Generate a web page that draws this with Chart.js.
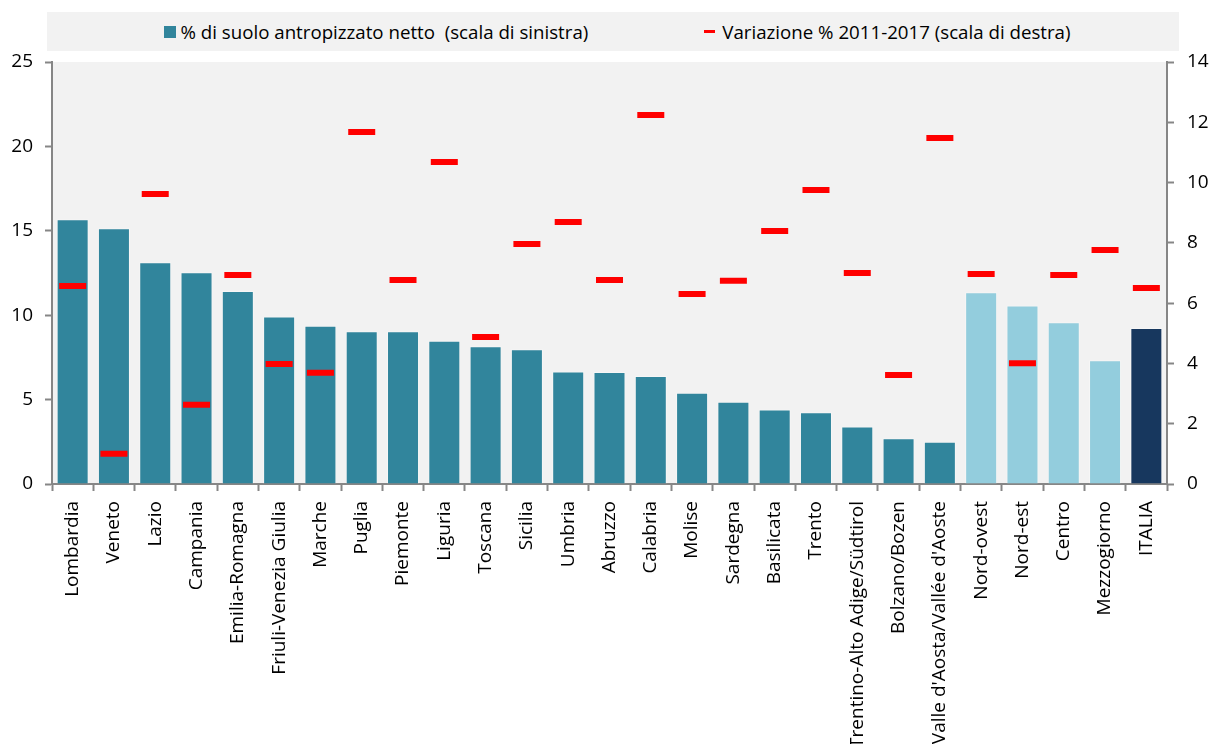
<!DOCTYPE html>
<html lang="it">
<head>
<meta charset="utf-8">
<title>Suolo antropizzato netto per regione</title>
<script src="https://cdn.jsdelivr.net/npm/chart.js@4/dist/chart.umd.min.js"></script>
<style>
    html, body { margin: 0; padding: 0; background: #ffffff; }
    #wrap { position: relative; width: 1210px; height: 744px; }
    #chart { position: absolute; left: 0; top: 0; }
    #legend {
        position: absolute; left: 47px; top: 12px; width: 1132px; height: 39px;
        background: #f2f2f2; display: flex; align-items: center; justify-content: center;
        gap: 116px; font-family: "Open Sans", sans-serif; font-size: 18.7px; color: #000;
        white-space: pre; padding-left: 8px; box-sizing: border-box;
    }
    .item { display: flex; align-items: center; }
    .swatch { display: inline-block; margin-right: 5px; }
</style>
</head>
<body>
<div id="wrap">
    <canvas id="chart" width="1210" height="744"></canvas>
    <div id="legend"></div>
</div>
<script>
// ── Data ──
const categories = [
    "Lombardia", "Veneto", "Lazio", "Campania", "Emilia-Romagna", "Friuli-Venezia Giulia",
    "Marche", "Puglia", "Piemonte", "Liguria", "Toscana", "Sicilia", "Umbria", "Abruzzo",
    "Calabria", "Molise", "Sardegna", "Basilicata", "Trento", "Trentino-Alto Adige/Südtirol",
    "Bolzano/Bozen", "Valle d'Aosta/Vallée d'Aoste",
    "Nord-ovest", "Nord-est", "Centro", "Mezzogiorno", "ITALIA",
];
const macroAreas = ["Nord-ovest", "Nord-est", "Centro", "Mezzogiorno"];
const nationLabel = "ITALIA";

// % di suolo antropizzato netto (left scale)
const suoloNetto = [
    15.68, 15.15, 13.13, 12.54, 11.43, 9.93, 9.38, 9.05, 9.05, 8.49, 8.16, 7.98, 6.67, 6.64,
    6.40, 5.41, 4.88, 4.42, 4.25, 3.40, 2.71, 2.51,
    11.36, 10.58, 9.58, 7.33, 9.24,
];
// Variazione % 2011-2017 (right scale)
const variazione = [
    6.57, 1.00, 9.62, 2.63, 6.93, 3.98, 3.69, 11.68, 6.77, 10.68, 4.88, 7.96, 8.69, 6.77,
    12.24, 6.30, 6.74, 8.39, 9.75, 7.00, 3.62, 11.48,
    6.97, 4.01, 6.93, 7.76, 6.50,
];

const leftTicks = { min: 0, max: 25, step: 5 };
const rightTicks = { min: 0, max: 14, step: 2 };

const COLORS = {
    region: "#31859c",
    macro:  "#93cddd",
    nation: "#17375e",
    change: "#ff0000",
    axis:   "#868686",
    plotBg: "#f2f2f2",
};

const FONT = "'Open Sans', sans-serif";

// ── Bar colour per category ──
const barColors = categories.map(c => {
    if (c === nationLabel) return COLORS.nation;
    if (macroAreas.includes(c)) return COLORS.macro;
    return COLORS.region;
});

// ── Plot area background ──
const plotBackground = {
    id: "plotBackground",
    beforeDraw(chart) {
        const { ctx, chartArea } = chart;
        ctx.save();
        ctx.fillStyle = COLORS.plotBg;
        ctx.fillRect(chartArea.left, chartArea.top,
            chartArea.right - chartArea.left, chartArea.bottom - chartArea.top);
        ctx.restore();
    },
};

const chart = new Chart(document.getElementById("chart"), {
    data: {
        labels: categories,
        datasets: [
            {
                type: "line",
                label: "Variazione % 2011-2017 (scala di destra)",
                data: variazione,
                yAxisID: "y1",
                showLine: false,
                pointStyle: "line",
                pointRadius: 13.5,
                pointHoverRadius: 13.5,
                pointBorderWidth: 6,
                pointHoverBorderWidth: 6,
                pointBorderColor: COLORS.change,
                pointBackgroundColor: COLORS.change,
                borderColor: COLORS.change,
                order: 0,
            },
            {
                type: "bar",
                label: "% di suolo antropizzato netto  (scala di sinistra)",
                data: suoloNetto,
                yAxisID: "y",
                backgroundColor: barColors,
                borderColor: "rgba(255,255,255,0.35)",
                borderWidth: 1,
                categoryPercentage: 1,
                barPercentage: 0.775,
                order: 1,
            },
        ],
    },
    options: {
        responsive: false,
        animation: false,
        layout: { padding: { top: 62, left: 0, right: 0, bottom: 0 } },
        plugins: {
            legend: { display: false },
            tooltip: { enabled: false },
        },
        scales: {
            x: {
                type: "category",
                offset: true,
                grid: {
                    offset: true,
                    drawOnChartArea: false,
                    drawTicks: true,
                    tickLength: 7,
                    tickWidth: 2,
                    tickColor: COLORS.axis,
                },
                border: { color: COLORS.axis, width: 2 },
                ticks: {
                    autoSkip: false,
                    minRotation: 90,
                    maxRotation: 90,
                    padding: 10,
                    color: "#000",
                    font: { family: FONT, size: 19 },
                },
                afterFit(scale) { scale.height = 260; },
            },
            y: {
                position: "left",
                min: leftTicks.min,
                max: leftTicks.max,
                grid: {
                    drawOnChartArea: false,
                    tickLength: 7,
                    tickWidth: 2,
                    tickColor: COLORS.axis,
                },
                border: { color: COLORS.axis, width: 2 },
                ticks: {
                    stepSize: leftTicks.step,
                    padding: 12,
                    color: "#000",
                    font: { family: FONT, size: 19 },
                },
                afterFit(scale) { scale.width = 52; },
            },
            y1: {
                position: "right",
                min: rightTicks.min,
                max: rightTicks.max,
                grid: {
                    drawOnChartArea: false,
                    tickLength: 7,
                    tickWidth: 2,
                    tickColor: COLORS.axis,
                },
                border: { color: COLORS.axis, width: 2 },
                ticks: {
                    stepSize: rightTicks.step,
                    padding: 13,
                    color: "#000",
                    font: { family: FONT, size: 19 },
                },
                afterFit(scale) { scale.width = 43; },
            },
        },
    },
    plugins: [plotBackground],
});

// ── HTML legend built from the datasets (bar first, as in the original) ──
function buildLegend() {
    const box = document.getElementById("legend");
    const [lineSet, barSet] = chart.data.datasets;
    const items = [
        { text: barSet.label, style: `width:12px;height:12px;background:${COLORS.region}` },
        { text: lineSet.label, style: `width:11px;height:3px;background:${COLORS.change};margin-right:7px` },
    ];
    box.innerHTML = items.map(it =>
        `<span class="item"><span class="swatch" style="${it.style}"></span>${it.text}</span>`
    ).join("");
}
buildLegend();
</script>
</body>
</html>
